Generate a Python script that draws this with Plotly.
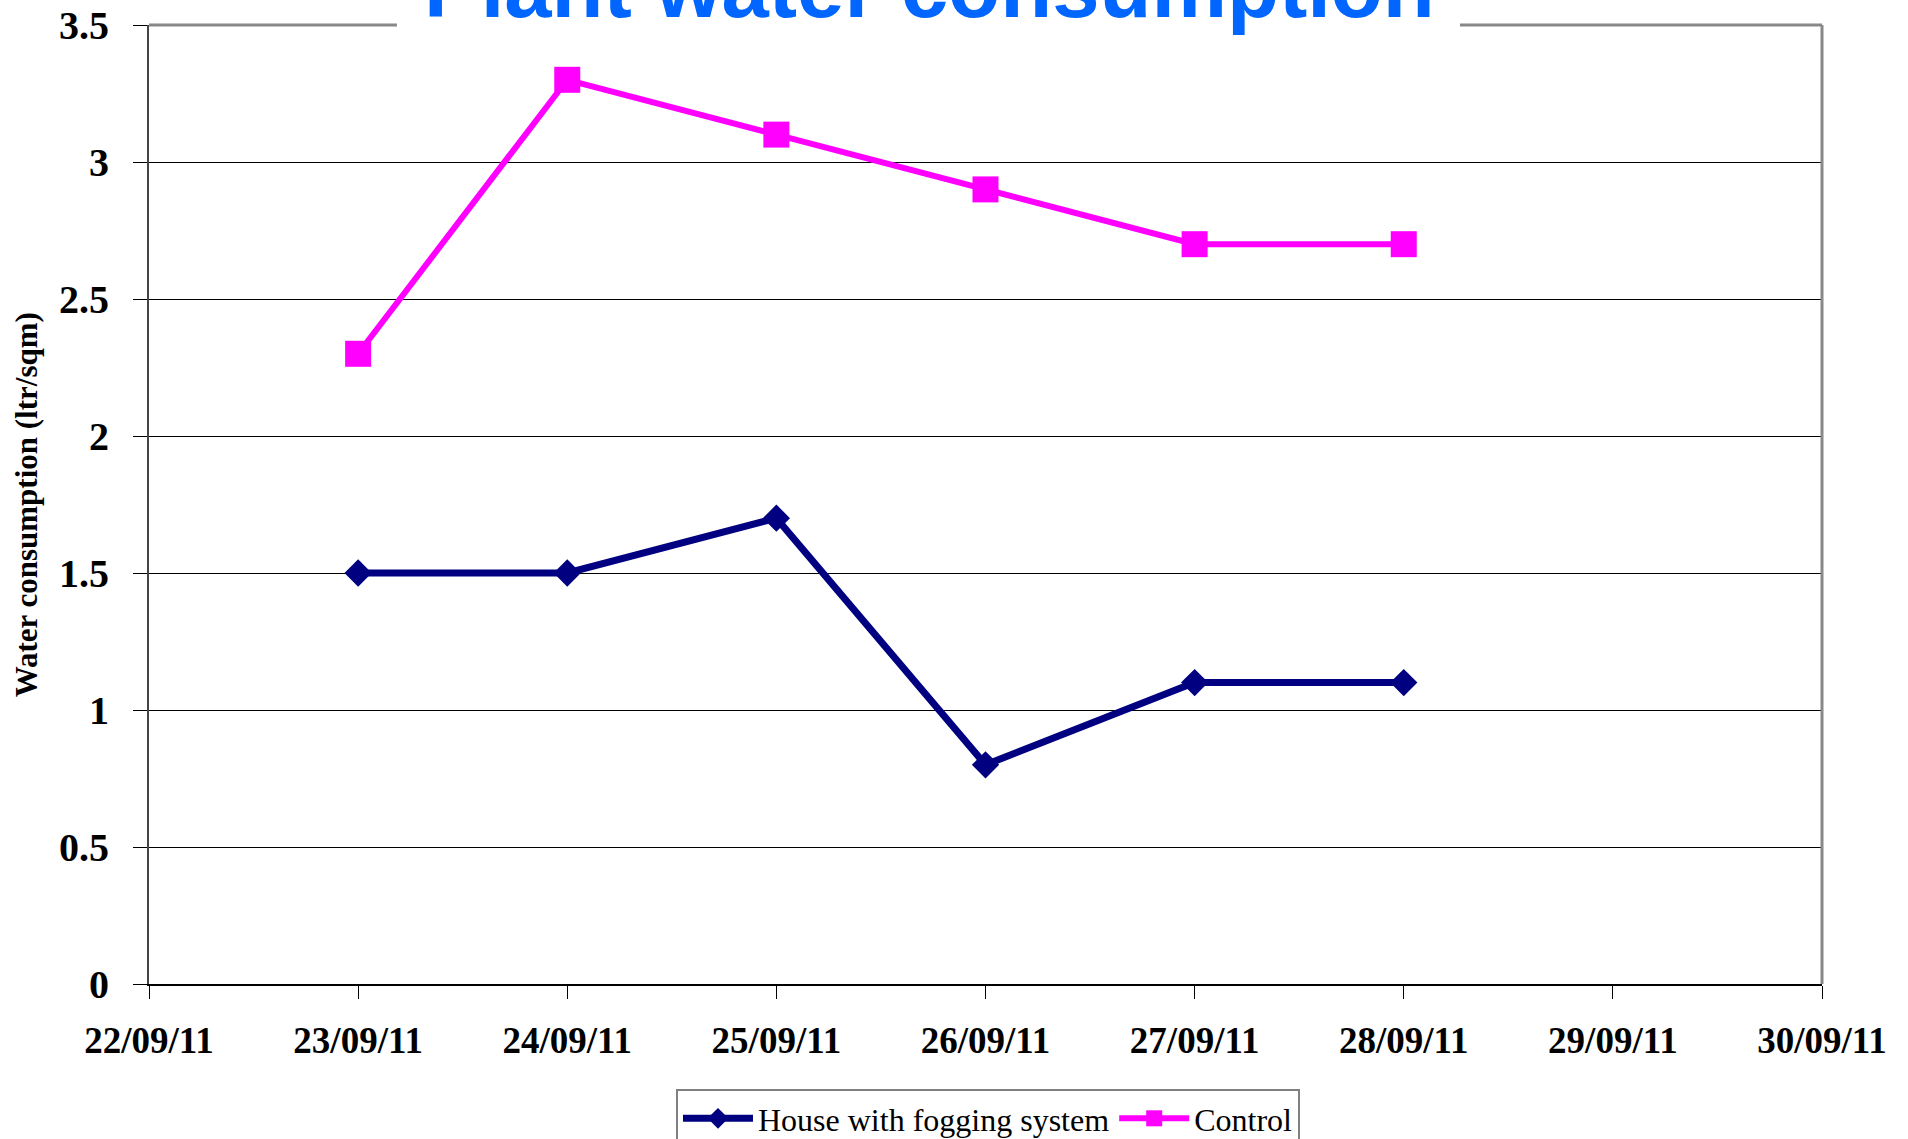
import plotly.graph_objects as go

dates = ["2011-09-23", "2011-09-24", "2011-09-25", "2011-09-26", "2011-09-27", "2011-09-28"]
fogging = [1.5, 1.5, 1.7, 0.8, 1.1, 1.1]
control = [2.3, 3.3, 3.1, 2.9, 2.7, 2.7]
x_range = ["2011-09-22", "2011-09-30"]
y_ticks = [0, 0.5, 1, 1.5, 2, 2.5, 3, 3.5]

serif = "Liberation Serif, Times New Roman, serif"
sans = "Liberation Sans, Arial, sans-serif"

fig = go.Figure()
fig.add_trace(go.Scatter(
    x=dates, y=fogging, name="House with fogging system", mode="lines+markers",
    line=dict(color="#000080", width=7),
    marker=dict(symbol="diamond", size=21, color="#000080"),
))
fig.add_trace(go.Scatter(
    x=dates, y=control, name="Control", mode="lines+markers",
    line=dict(color="#FF00FF", width=6),
    marker=dict(symbol="square", size=26, color="#FF00FF"),
))

fig.update_layout(
    width=1908, height=1139,
    margin=dict(l=149, r=86, t=25, b=155, pad=0, autoexpand=False),
    paper_bgcolor="white", plot_bgcolor="white",
    showlegend=True,
    legend=dict(
        orientation="h", x=0.315, y=-0.1095, xanchor="left", yanchor="top",
        bordercolor="#808080", borderwidth=2, bgcolor="white",
        font=dict(family=serif, size=32, color="black"),
        itemwidth=70, tracegroupgap=0,
    ),
    xaxis=dict(
        type="date", range=x_range, dtick=86400000, tick0="2011-09-22",
        tickformat="%d/%m/%y", showgrid=False, zeroline=False, automargin=False,
        showline=True, linecolor="black", linewidth=2,
        ticks="outside", ticklen=13, tickwidth=1, tickcolor="black",
        ticklabelstandoff=10,
        tickfont=dict(family=serif, size=37, color="black", weight="bold"),
    ),
    yaxis=dict(
        range=[0, 3.5], tickvals=y_ticks, showgrid=True, gridcolor="black", gridwidth=1,
        zeroline=False, showline=True, linecolor="#444444", linewidth=2, automargin=False,
        ticks="outside", ticklen=14, tickwidth=1, tickcolor="black",
        ticklabelstandoff=16,
        tickfont=dict(family=serif, size=40, color="black", weight="bold"),
    ),
    shapes=[
        dict(type="line", xref="paper", yref="paper", x0=0.0, x1=1.0, y0=1, y1=1,
             line=dict(color="white", width=4), layer="above"),
        dict(type="line", xref="paper", yref="paper", x0=0.0, x1=0.1482, y0=1, y1=1,
             line=dict(color="#888888", width=3), layer="above"),
        dict(type="line", xref="paper", yref="paper", x0=0.7836, x1=1.0, y0=1, y1=1,
             line=dict(color="#888888", width=3), layer="above"),
        dict(type="line", xref="paper", yref="paper", x0=1, x1=1, y0=0, y1=1,
             line=dict(color="#888888", width=3), layer="above"),
    ],
    annotations=[
        dict(text="<b>Plant water consumption</b>", xref="paper", yref="paper",
             x=0.4668, y=1.039, xanchor="center", yanchor="middle", showarrow=False,
             font=dict(family=sans, size=85, color="#0066FF")),
        dict(text="<b>Water consumption (ltr/sqm)</b>", xref="paper", yref="paper",
             x=-0.0727, y=0.4995, xanchor="center", yanchor="middle", showarrow=False,
             textangle=-90, font=dict(family=serif, size=31, color="black")),
    ],
)

fig.write_html("out.html", config={"displayModeBar": False},
               post_script="document.body.style.margin='0';document.body.style.overflow='hidden';")
